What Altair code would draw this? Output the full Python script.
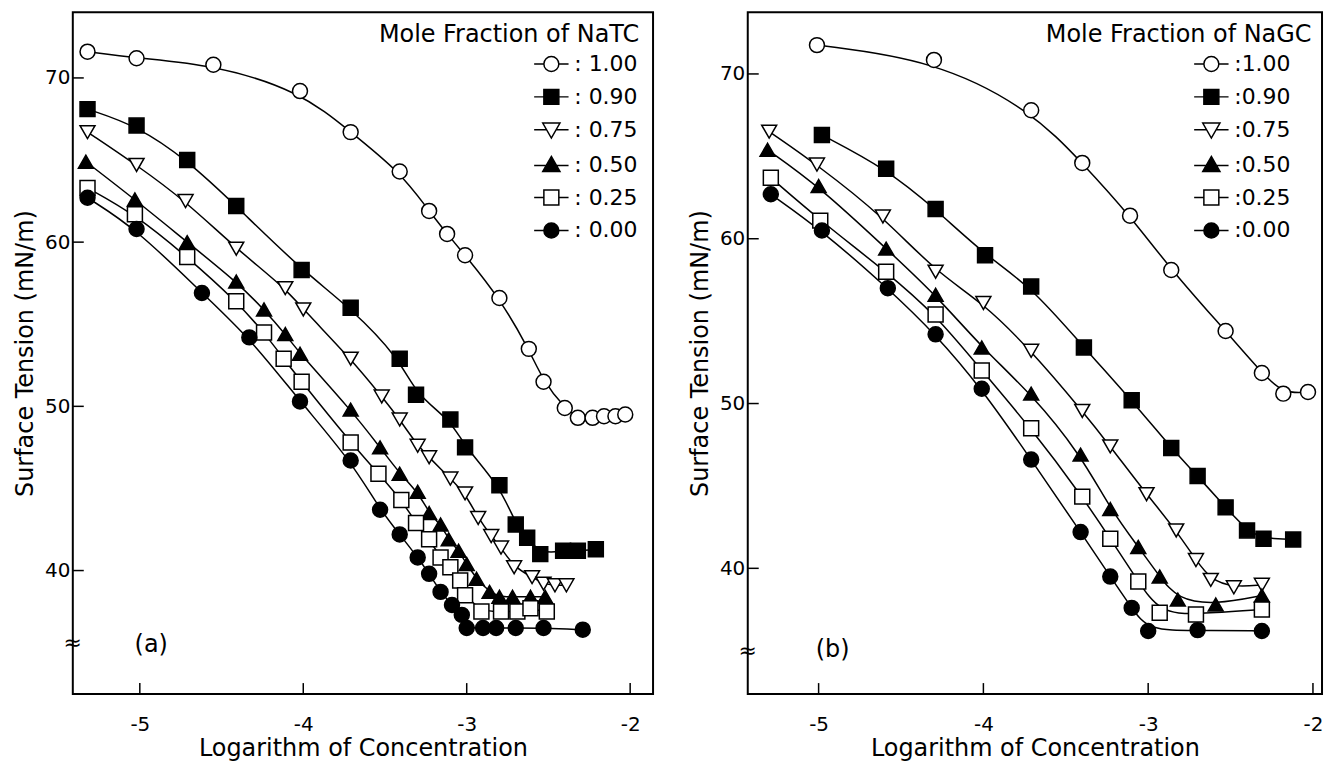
import altair as alt
import pandas as pd

FONT = "DejaVu Sans"
LEVELS = ["1.00", "0.90", "0.75", "0.50", "0.25", "0.00"]
SHAPES = ["circle", "square", "triangle-down", "triangle-up", "square", "circle"]
FILLS = ["white", "black", "white", "black", "white", "black"]
STROKES = ["black"] * 6
X_TICKS = [-5, -4, -3, -2]
Y_TICKS = [40, 50, 60, 70]

# ---- Panel (a): NaTC ----
a_x_100 = [-5.32, -5.02, -4.55, -4.02, -3.71, -3.41, -3.23, -3.12, -3.01, -2.80, -2.62, -2.53, -2.40, -2.32, -2.23, -2.16, -2.09, -2.03]
a_y_100 = [71.6, 71.2, 70.8, 69.2, 66.7, 64.3, 61.9, 60.5, 59.2, 56.6, 53.5, 51.5, 49.9, 49.3, 49.3, 49.4, 49.4, 49.5]
a_x_090 = [-5.32, -5.02, -4.71, -4.41, -4.01, -3.71, -3.41, -3.31, -3.10, -3.01, -2.80, -2.70, -2.63, -2.55, -2.41, -2.32, -2.21]
a_y_090 = [68.1, 67.1, 65.0, 62.2, 58.3, 56.0, 52.9, 50.7, 49.2, 47.5, 45.2, 42.8, 42.0, 41.0, 41.2, 41.2, 41.3]
a_x_075 = [-5.32, -5.02, -4.72, -4.41, -4.11, -4.00, -3.71, -3.52, -3.41, -3.30, -3.23, -3.10, -3.01, -2.93, -2.85, -2.79, -2.71, -2.60, -2.53, -2.46, -2.39]
a_y_075 = [66.7, 64.7, 62.5, 59.6, 57.2, 55.9, 52.9, 50.6, 49.2, 47.6, 46.9, 45.6, 44.7, 43.2, 42.1, 41.4, 40.2, 39.6, 39.2, 39.1, 39.1]
a_x_050 = [-5.33, -5.03, -4.71, -4.41, -4.24, -4.11, -4.02, -3.71, -3.53, -3.41, -3.30, -3.23, -3.16, -3.11, -3.05, -3.00, -2.94, -2.86, -2.80, -2.72, -2.61, -2.52]
a_y_050 = [64.9, 62.6, 60.0, 57.6, 55.9, 54.4, 53.2, 49.8, 47.5, 45.9, 44.8, 43.5, 42.8, 41.9, 41.2, 40.4, 39.5, 38.7, 38.4, 38.4, 38.4, 38.4]
a_x_025 = [-5.32, -5.03, -4.71, -4.41, -4.24, -4.12, -4.01, -3.71, -3.54, -3.40, -3.31, -3.23, -3.16, -3.10, -3.04, -3.01, -2.91, -2.79, -2.69, -2.61, -2.51]
a_y_025 = [63.3, 61.7, 59.1, 56.4, 54.5, 52.9, 51.5, 47.8, 45.9, 44.3, 42.9, 41.9, 40.8, 40.2, 39.4, 38.5, 37.5, 37.5, 37.5, 37.7, 37.5]
a_x_000 = [-5.32, -5.02, -4.62, -4.33, -4.02, -3.71, -3.53, -3.41, -3.30, -3.23, -3.16, -3.09, -3.03, -3.00, -2.90, -2.82, -2.70, -2.53, -2.29]
a_y_000 = [62.7, 60.8, 56.9, 54.2, 50.3, 46.7, 43.7, 42.2, 40.8, 39.8, 38.7, 37.9, 37.3, 36.5, 36.5, 36.5, 36.5, 36.5, 36.4]

# ---- Panel (b): NaGC ----
b_x_100 = [-5.01, -4.30, -3.71, -3.40, -3.11, -2.86, -2.53, -2.31, -2.18, -2.03]
b_y_100 = [71.75, 70.85, 67.8, 64.6, 61.4, 58.1, 54.4, 51.85, 50.6, 50.7]
b_x_090 = [-4.98, -4.59, -4.29, -3.99, -3.71, -3.39, -3.10, -2.86, -2.70, -2.53, -2.40, -2.30, -2.12]
b_y_090 = [66.3, 64.25, 61.8, 59.0, 57.1, 53.4, 50.2, 47.3, 45.6, 43.7, 42.3, 41.8, 41.75]
b_x_075 = [-5.30, -5.01, -4.61, -4.29, -4.00, -3.71, -3.40, -3.23, -3.01, -2.83, -2.71, -2.62, -2.48, -2.31]
b_y_075 = [66.5, 64.5, 61.35, 58.0, 56.1, 53.2, 49.55, 47.4, 44.5, 42.3, 40.5, 39.3, 38.85, 39.0]
b_x_050 = [-5.31, -5.00, -4.59, -4.29, -4.01, -3.71, -3.41, -3.23, -3.06, -2.93, -2.82, -2.59, -2.31]
b_y_050 = [65.4, 63.2, 59.4, 56.6, 53.4, 50.6, 46.9, 43.6, 41.3, 39.5, 38.1, 37.8, 38.35]
b_x_025 = [-5.29, -4.99, -4.59, -4.29, -4.01, -3.71, -3.40, -3.23, -3.06, -2.93, -2.71, -2.31]
b_y_025 = [63.7, 61.1, 58.0, 55.4, 52.0, 48.5, 44.35, 41.8, 39.2, 37.3, 37.2, 37.5]
b_x_000 = [-5.29, -4.98, -4.58, -4.29, -4.01, -3.71, -3.41, -3.23, -3.10, -3.00, -2.70, -2.31]
b_y_000 = [62.7, 60.5, 57.0, 54.2, 50.9, 46.6, 42.2, 39.5, 37.6, 36.2, 36.25, 36.2]

A_SERIES = [(a_x_100, a_y_100), (a_x_090, a_y_090), (a_x_075, a_y_075),
            (a_x_050, a_y_050), (a_x_025, a_y_025), (a_x_000, a_y_000)]
B_SERIES = [(b_x_100, b_y_100), (b_x_090, b_y_090), (b_x_075, b_y_075),
            (b_x_050, b_y_050), (b_x_025, b_y_025), (b_x_000, b_y_000)]

# legend symbols with short line stubs on both sides ("-O-")
LEGEND_SHAPES = [
    "M-2.3,0H-1M1,0H2.3M1,0A1,1,0,1,1,-1,0A1,1,0,1,1,1,0Z",
    "M-2.3,0H-1M1,0H2.3M-1,-1H1V1H-1Z",
    "M-2.3,0H-0.62M0.62,0H2.3M-1.15,-0.9H1.15L0,1.1Z",
    "M-2.3,0.1H-0.68M0.68,0.1H2.3M0,-1.1L1.15,0.9H-1.15Z",
    "M-2.3,0H-1M1,0H2.3M-1,-1H1V1H-1Z",
    "M-2.3,0H-1M1,0H2.3M1,0A1,1,0,1,1,-1,0A1,1,0,1,1,1,0Z",
]

H = 684


def panel(series, width, xdom, ydom, legend_title, colon, legend_x, sym_offset,
          tag, tag_xy, break_y):
    rows = []
    for lev, (xs, ys) in zip(LEVELS, series):
        for xv, yv in zip(xs, ys):
            rows.append({"logc": xv, "st": yv, "frac": lev, "key": lev})
    df = pd.DataFrame(rows)

    xs = alt.Scale(domain=xdom, nice=False, zero=False)
    ys = alt.Scale(domain=ydom, nice=False, zero=False)

    x_enc = alt.X("logc:Q", scale=xs, axis=alt.Axis(
        values=X_TICKS, title="Logarithm of Concentration", format="d",
        labelExpr="replace(datum.label, '\u2212', '-')",
        labelPadding=21, titlePadding=2))
    y_enc = alt.Y("st:Q", scale=ys, axis=alt.Axis(
        values=Y_TICKS, title="Surface Tension  (mN/m)",
        labelPadding=3, titlePadding=7))

    leg = alt.Legend(title=legend_title, orient="none", legendX=legend_x, legendY=11,
                     symbolOffset=sym_offset, symbolOpacity=1, titleLimit=400,
                     labelExpr="'" + colon + "' + datum.label")

    lines = alt.Chart(df).mark_line(interpolate="basis", color="black", strokeWidth=1.5).encode(
        x=x_enc, y=y_enc, detail="frac:N")

    points = alt.Chart(df).mark_point(filled=True, size=225, stroke="black",
                                      strokeWidth=1.5, opacity=1).encode(
        x=alt.X("logc:Q", scale=xs),
        y=alt.Y("st:Q", scale=ys),
        shape=alt.Shape("frac:N", scale=alt.Scale(domain=LEVELS, range=SHAPES), legend=None),
        fill=alt.Fill("frac:N", scale=alt.Scale(domain=LEVELS, range=FILLS), legend=None),
    )

    # invisible copy of the points that only provides the legend ("-O- : 1.00" entries)
    legend_src = alt.Chart(df).mark_point(filled=True, size=225, strokeWidth=1.5, opacity=0).encode(
        x=alt.X("logc:Q", scale=xs),
        y=alt.Y("st:Q", scale=ys),
        shape=alt.Shape("key:N", scale=alt.Scale(domain=LEVELS, range=LEGEND_SHAPES), legend=leg),
        fill=alt.Fill("key:N", scale=alt.Scale(domain=LEVELS, range=FILLS), legend=leg),
        stroke=alt.Stroke("key:N", scale=alt.Scale(domain=LEVELS, range=STROKES), legend=leg),
    )

    xt = alt.Chart(pd.DataFrame({"logc": X_TICKS})).mark_rule(color="black", strokeWidth=1.5).encode(
        x=alt.X("logc:Q", scale=xs), y=alt.value(H), y2=alt.value(H - 11))
    yt = alt.Chart(pd.DataFrame({"st": Y_TICKS})).mark_rule(color="black", strokeWidth=1.5).encode(
        y=alt.Y("st:Q", scale=ys), x=alt.value(0), x2=alt.value(11))

    tag_df = pd.DataFrame({"logc": [tag_xy[0]], "st": [tag_xy[1]], "txt": [tag]})
    tag_mark = alt.Chart(tag_df).mark_text(font=FONT, fontSize=24, color="black").encode(
        x=alt.X("logc:Q", scale=xs), y=alt.Y("st:Q", scale=ys), text="txt:N")

    brk_df = pd.DataFrame({"st": [break_y], "txt": ["\u2248"]})
    brk = alt.Chart(brk_df).mark_text(font=FONT, fontSize=22, color="black").encode(
        x=alt.value(0), y=alt.Y("st:Q", scale=ys), text="txt:N")

    return alt.layer(lines, points, legend_src, xt, yt, tag_mark, brk).resolve_scale(
        shape="independent", fill="independent", stroke="independent"
    ).properties(width=width, height=H)


pa = panel(A_SERIES, 582, [-5.41, -1.86], [32.478, 74.007], "Mole Fraction of NaTC", ": ",
           307, 162, "(a)", (-4.93, 35.45), 35.6)
pb = panel(B_SERIES, 576, [-5.43, -1.945], [32.37, 73.751], "Mole Fraction of NaGC", ":",
           299, 155, "(b)", (-4.915, 35.04), 35.0)

chart = alt.hconcat(pa, pb, spacing=33).resolve_scale(
    x="independent", y="independent", shape="independent", fill="independent",
    stroke="independent"
).properties(
    padding={"left": 4, "top": 2, "right": 0, "bottom": 0}
).configure_view(
    stroke="black", strokeWidth=2
).configure_axis(
    labelFont=FONT, titleFont=FONT, labelFontSize=20, titleFontSize=24,
    titleFontWeight="normal", labelColor="black", titleColor="black",
    grid=False, ticks=False, domain=False
).configure_legend(
    titleFont=FONT, labelFont=FONT, titleFontSize=24, labelFontSize=22,
    titleFontWeight="normal", titleColor="black", labelColor="black",
    symbolSize=225, symbolStrokeWidth=1.5,
    rowPadding=11, titlePadding=6, labelOffset=12, padding=0, offset=0
)

chart.save("out.html", embed_options={"renderer": "svg", "actions": False})
